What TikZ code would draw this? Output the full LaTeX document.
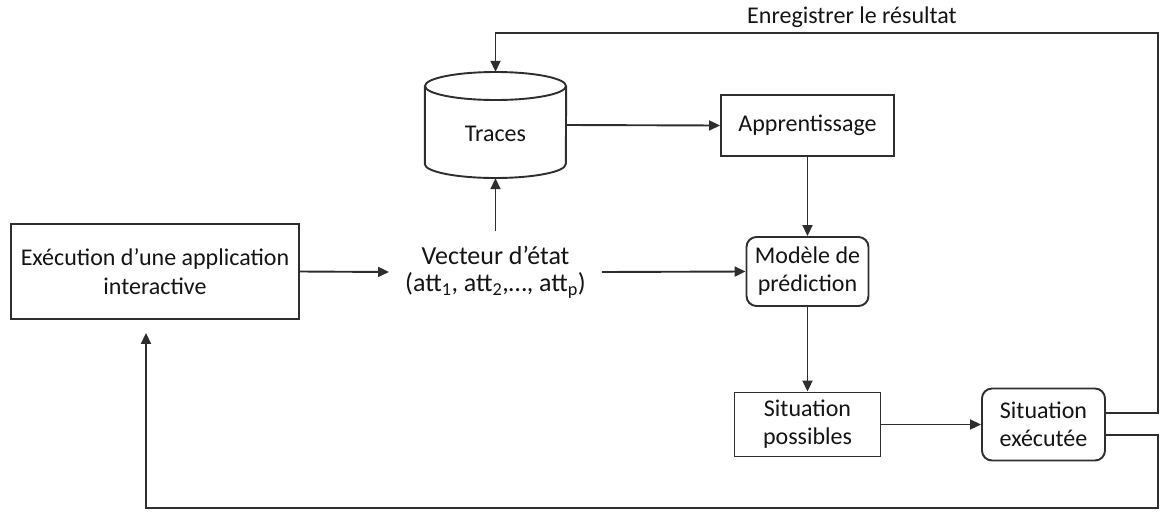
\documentclass[tikz,border=0pt]{standalone}
\usepackage{fontspec}
\setmainfont{Carlito}
\usetikzlibrary{arrows.meta}
\begin{document}
\begin{tikzpicture}[x=1pt,y=-1pt,
  every node/.style={font=\fontsize{24}{29}\selectfont, text=black!92},
  box/.style={draw=black!82, line width=1.9pt, fill=white, align=center, inner sep=0pt},
  rbox/.style={box, rounded corners=10pt},
  arr/.style={draw=black!82, line width=1.9pt, -{Triangle[length=11pt,width=10pt]}},
  ln/.style={draw=black!82, line width=1.9pt}]
\useasboundingbox (0,0) rectangle (1160,512);

% Traces (cylinder)
\node[minimum width=141pt, minimum height=106pt, inner sep=0pt] (trac) at (495.5,125) {};
\draw[ln, fill=white] (trac.north west |- 0,86) -- (trac.north west |- 0,164)
  arc[start angle=180, end angle=0, x radius=70.5, y radius=14]
  -- (trac.north east |- 0,86);
\draw[ln] (495.5,86) ellipse[x radius=70.5, y radius=14];
\node (tract) at (495.5,134) {Traces};

% Nodes
\node[box, minimum width=173pt, minimum height=61pt] (app) at (807.5,125.5) {Apprentissage};
\node[box, minimum width=288pt, minimum height=95pt] (exec) at (155,271.5) {Exécution d’une application\\interactive};
\node[align=center, inner xsep=16pt, inner ysep=15pt, font=\fontsize{26}{27}\selectfont] (vec) at (495.5,272) {Vecteur d’état\\(att\textsubscript{1}, att\textsubscript{2},…, att\textsubscript{p})};
\node[rbox, minimum width=122pt, minimum height=69pt, font=\fontsize{24}{28}\selectfont] (mod) at (807.5,271.5) {Modèle de\\prédiction};
\node[box, minimum width=146pt, minimum height=64pt, font=\fontsize{24}{28}\selectfont] (sp) at (807.5,424.5) {Situation\\possibles};
\node[rbox, minimum width=123pt, minimum height=72pt, font=\fontsize{24}{28}\selectfont] (se) at (1043.5,424.5) {Situation\\exécutée};
\node[anchor=base west, inner sep=0pt] (lbl) at (747,23) {Enregistrer le résultat};

\coordinate (rt) at (1158,33);
\coordinate (rb) at (1158,508);

% Connectors
\draw[arr] (trac.east) -- (app.west);
\draw[arr] (app.south) -- (mod.north);
\draw[arr] (exec.east) -- (vec.west);
\draw[arr] (vec.east) -- (mod.west);
\draw[arr] (vec.north) -- (trac.south);
\draw[arr] (mod.south) -- (sp.north);
\draw[arr] (sp.east) -- (se.west);
\draw[arr] ([yshift=11.5pt]se.east) -| (rt) -| (trac.north);
\draw[arr, shorten >=13pt] ([yshift=-10.5pt]se.east) -| (rb) -| ([xshift=-9pt]exec.south);
\end{tikzpicture}
\end{document}
